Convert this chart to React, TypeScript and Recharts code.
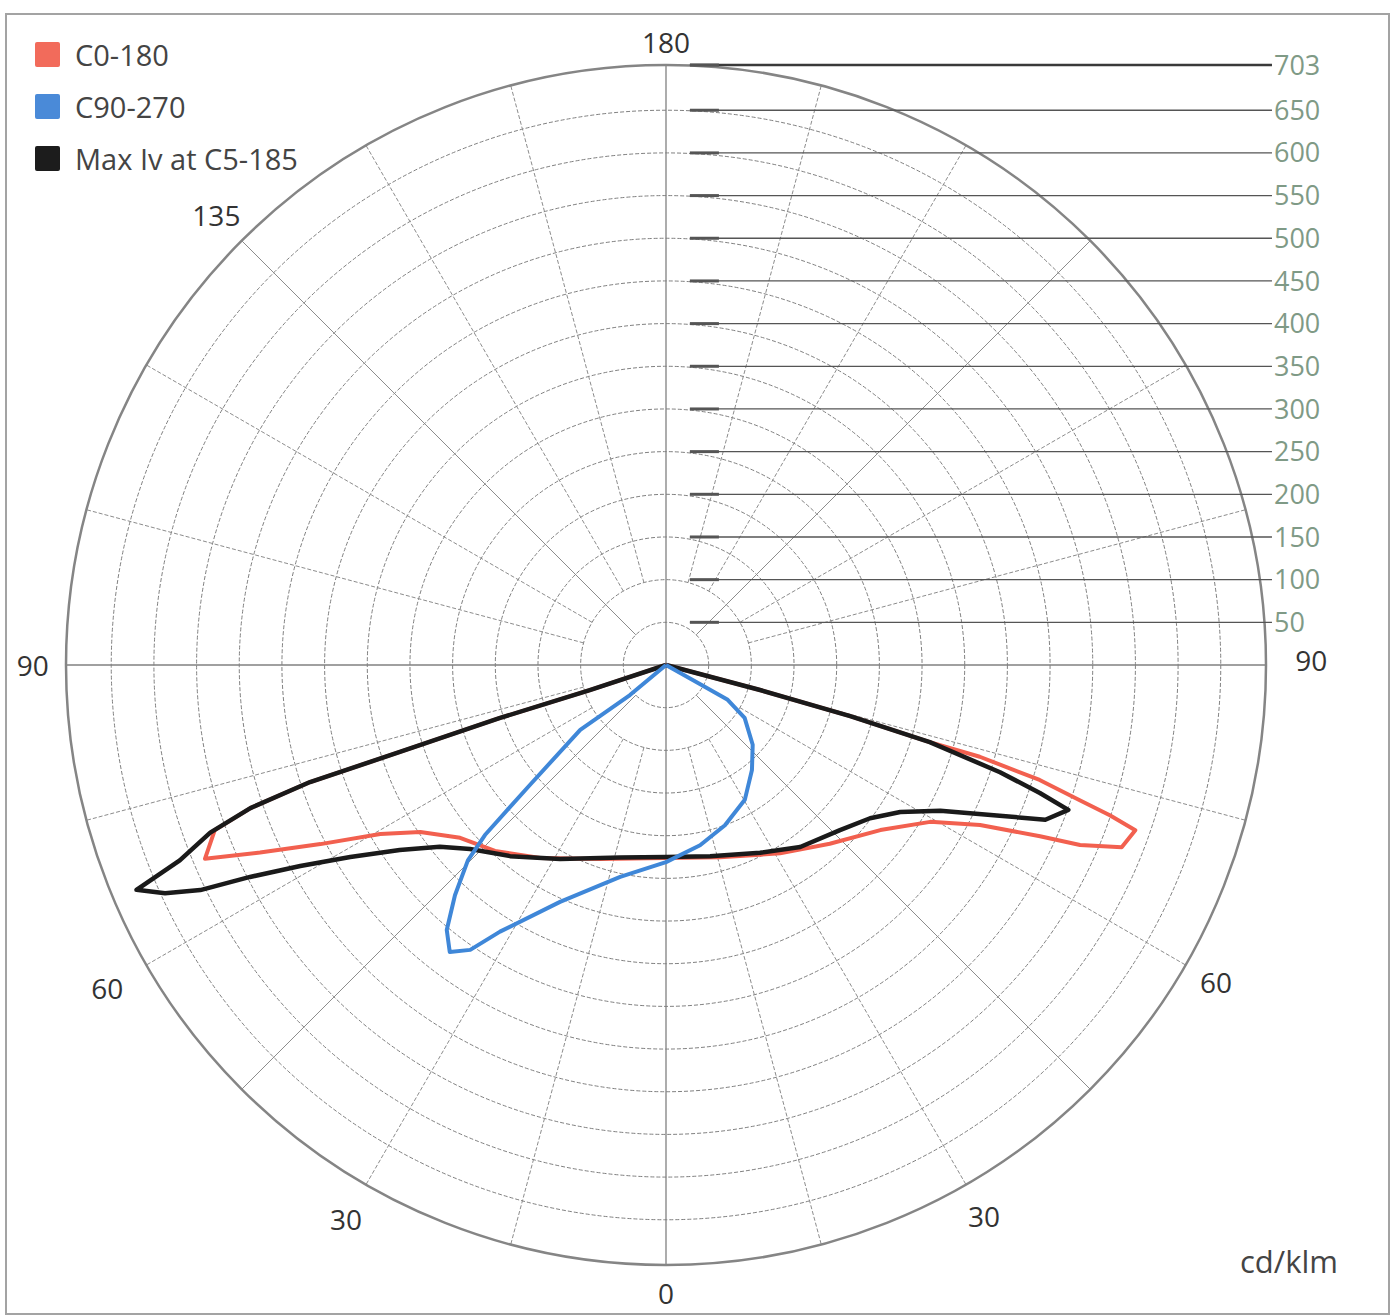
import React from 'react';
import {
  ScatterChart,
  Scatter,
  XAxis,
  YAxis,
  ReferenceLine,
  Customized,
  usePlotArea,
} from 'recharts';

// photometric polar plot, intensities in cd/klm, angles = gamma (left side negative)
const MAX_IV = 703;
const RING_VALUES = [50, 100, 150, 200, 250, 300, 350, 400, 450, 500, 550, 600, 650];
const SCALE_TICKS = [50, 100, 150, 200, 250, 300, 350, 400, 450, 500, 550, 600, 650, 703];
const SPOKE_ANGLES = [0, 15, 30, 45, 60, 75, 90, 105, 120, 135, 150, 165, 180, 195, 210, 225, 240, 255, 270, 285, 300, 315, 330, 345];
// label radius in cd/klm units (sits just outside the 703 ring)
const ANGLE_LABELS: { text: string; angle: number; r: number }[] = [
  { text: '180', angle: 180, r: 730 },
  { text: '135', angle: -135, r: 745 },
  { text: '90', angle: -90, r: 742 },
  { text: '90', angle: 90.4, r: 756 },
  { text: '60', angle: -60, r: 756 },
  { text: '60', angle: 60, r: 744 },
  { text: '30', angle: -30, r: 750 },
  { text: '30', angle: 30, r: 745 },
  { text: '0', angle: 0, r: 736 },
];

// [gamma, cd/klm]
const C0_180: [number, number][] = [
  [180, 0], [75.1, 114], [74.5, 224], [73.7, 322], [73.7, 383], [72.9, 458], [71.9, 510],
  [71.3, 549], [70.6, 583], [68.2, 575], [66.5, 529], [65.4, 482], [63.0, 413], [59.3, 360],
  [52.4, 317], [42.5, 284], [31.2, 258], [15.7, 234], [0, 226], [-18.8, 240], [-33.1, 270],
  [-42.6, 296], [-50.0, 315], [-55.8, 348], [-59.4, 389], [-62.6, 456], [-65.2, 524],
  [-67.2, 586], [-69.9, 563], [-71.0, 515], [-71.8, 439], [-71.9, 328], [-72.3, 204],
  [-71.8, 94], [-180, 0],
];

const C90_270: [number, number][] = [
  [180, 0], [60.8, 46], [60.6, 83], [56.1, 111], [47.4, 138], [39.3, 159], [30.3, 183],
  [20.2, 200], [10.7, 215], [0, 231], [-12.2, 254], [-24.1, 304], [-31.9, 368], [-34.5, 405],
  [-37.0, 421], [-39.6, 403], [-42.5, 366], [-45.4, 326], [-46.8, 291], [-48.6, 213],
  [-52.9, 126], [-50.2, 55], [-180, 0],
];

const MAX_C5_185: [number, number][] = [
  [180, 0], [75.1, 114], [74.5, 224], [73.7, 322], [72.2, 411], [71.1, 463], [70.2, 501],
  [67.8, 480], [65.7, 429], [62.0, 364], [57.9, 324], [53.1, 299], [46.5, 281], [36.4, 265],
  [26.6, 246], [13.0, 230], [0, 225], [-13.4, 232], [-28.6, 259], [-39.2, 289], [-46.8, 315],
  [-51.2, 340], [-55.2, 380], [-58.7, 433], [-61.2, 489], [-63.0, 547], [-64.2, 606],
  [-65.5, 645], [-67.0, 674], [-68.1, 614], [-69.8, 569], [-71.0, 515], [-71.8, 439],
  [-71.9, 328], [-72.3, 204], [-71.8, 94], [-180, 0],
];

const RED = '#f2604f';
const BLUE = '#3f87d8';
const BLACK = '#1a1a1a';

const LEGEND = [
  { name: 'C0-180', color: '#f26b5b' },
  { name: 'C90-270', color: '#4a8ad8' },
  { name: 'Max Iv at C5-185', color: '#1c1c1c' },
];

const FONT = '"Open Sans", "DejaVu Sans", sans-serif';

function toXY(points: [number, number][]) {
  return points.map(([gamma, iv]) => {
    const a = (gamma * Math.PI) / 180;
    return { x: iv * Math.sin(a), y: -iv * Math.cos(a) };
  });
}

function PolarGridLayer() {
  const area = usePlotArea();
  if (!area) return null;
  const cx = area.x + area.width / 2;
  const cy = area.y + area.height / 2;
  const k = area.width / (2 * MAX_IV);
  const pt = (deg: number, v: number) => {
    const a = (deg * Math.PI) / 180;
    return [cx + v * k * Math.sin(a), cy + v * k * Math.cos(a)];
  };

  return (
    <g>
      {RING_VALUES.map((v) => (
        <circle key={v} cx={cx} cy={cy} r={v * k} fill="none" stroke="#808080" strokeWidth={1} strokeDasharray="4 2" />
      ))}
      {SPOKE_ANGLES.map((deg) => {
        const main = deg % 90 === 0;
        const diag = !main && deg % 45 === 0;
        const [x1, y1] = pt(deg, main ? 0 : diag ? 50 : 100);
        const [x2, y2] = pt(deg, MAX_IV);
        return (
          <line
            key={deg}
            x1={x1}
            y1={y1}
            x2={x2}
            y2={y2}
            stroke={main ? '#808080' : '#8c8c8c'}
            strokeWidth={main ? 1.3 : 1}
            strokeDasharray={main || diag ? undefined : '4 2'}
          />
        );
      })}
      <circle cx={cx} cy={cy} r={MAX_IV * k} fill="none" stroke="#858585" strokeWidth={2.5} />
      {ANGLE_LABELS.map((l) => {
        const [x, y] = pt(l.angle, l.r);
        return (
          <text key={l.text + l.angle} x={x} y={y} textAnchor="middle" dominantBaseline="central" fontSize={28} fill="#333" fontFamily={FONT}>
            {l.text}
          </text>
        );
      })}
    </g>
  );
}

const EmptyShape = () => <g />;

export default function App() {
  return (
    <div style={{ position: 'absolute', left: 0, top: 0, width: 1396, height: 1316, background: '#fff', fontFamily: FONT }}>
      <div style={{ position: 'absolute', left: 5, top: 13, width: 1381, height: 1298, border: '2px solid #a3a3a3' }} />

      <div style={{ position: 'absolute', left: 0, top: 0 }}>
        <ScatterChart width={1396} height={1316} margin={{ top: 65, left: 66, right: 130, bottom: 51 }}>
          <XAxis type="number" dataKey="x" domain={[-MAX_IV, MAX_IV]} allowDataOverflow hide />
          <YAxis type="number" dataKey="y" domain={[-MAX_IV, MAX_IV]} allowDataOverflow hide />
          <Customized component={<PolarGridLayer />} />

          {SCALE_TICKS.map((v) => (
            <ReferenceLine
              key={'l' + v}
              segment={[{ x: 28, y: v }, { x: 710, y: v }]}
              stroke={v === MAX_IV ? '#3a3a3a' : '#555'}
              strokeWidth={v === MAX_IV ? 2.5 : 1.3}
              ifOverflow="visible"
              label={{ value: String(v), position: 'right', offset: 2, fill: '#7f9a86', fontSize: 27, fontFamily: FONT }}
            />
          ))}
          {SCALE_TICKS.map((v) => (
            <ReferenceLine
              key={'t' + v}
              segment={[{ x: 28, y: v }, { x: 62, y: v }]}
              stroke="#555"
              strokeWidth={3}
              ifOverflow="visible"
            />
          ))}

          <Scatter
            name="C0-180"
            data={toXY(C0_180)}
            fill={RED}
            line={{ stroke: RED, strokeWidth: 4, strokeLinejoin: 'round' }}
            shape={EmptyShape}
            isAnimationActive={false}
          />
          <Scatter
            name="Max Iv at C5-185"
            data={toXY(MAX_C5_185)}
            fill={BLACK}
            line={{ stroke: BLACK, strokeWidth: 4.5, strokeLinejoin: 'round' }}
            shape={EmptyShape}
            isAnimationActive={false}
          />
          <Scatter
            name="C90-270"
            data={toXY(C90_270)}
            fill={BLUE}
            line={{ stroke: BLUE, strokeWidth: 4, strokeLinejoin: 'round' }}
            shape={EmptyShape}
            isAnimationActive={false}
          />
        </ScatterChart>
      </div>

      <div style={{ position: 'absolute', left: 35, top: 28 }}>
        {LEGEND.map((item) => (
          <div key={item.name} style={{ display: 'flex', alignItems: 'center', height: 52 }}>
            <div style={{ width: 25, height: 25, background: item.color, borderRadius: 2, marginRight: 15 }} />
            <span style={{ fontSize: 29, color: '#444' }}>{item.name}</span>
          </div>
        ))}
      </div>

      <div style={{ position: 'absolute', left: 1240, top: 1240, fontSize: 31, color: '#444' }}>cd/klm</div>
    </div>
  );
}
